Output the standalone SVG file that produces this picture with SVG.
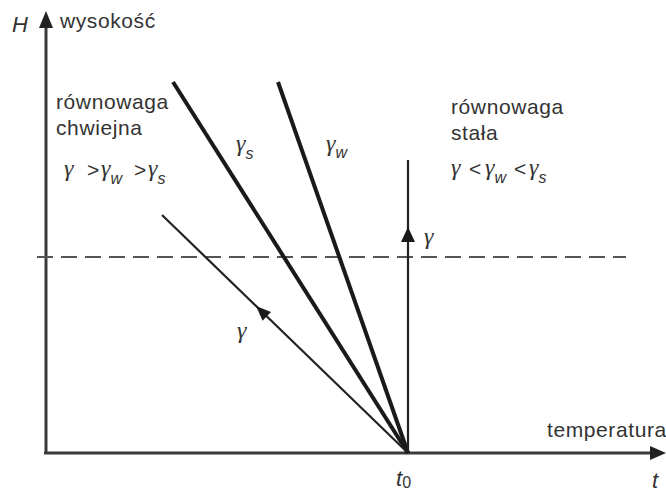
<svg xmlns="http://www.w3.org/2000/svg" width="666" height="493" viewBox="0 0 666 493">
<style>
.t{font-family:"Liberation Sans",Arial,sans-serif;font-size:21px;letter-spacing:0.6px;fill:#333}
.g{font-family:"Liberation Serif","Times New Roman",serif;font-style:italic;font-size:24px;fill:#333}
.it{font-family:"Liberation Sans",Arial,sans-serif;font-style:italic;font-size:22px;fill:#333}
.sub{font-family:"Liberation Sans",Arial,sans-serif;font-style:italic;font-size:16px}
.ax{stroke:#3a3a3a;stroke-width:3;fill:none}
.thick{stroke:#1a1a1a;stroke-width:4;fill:none}
.thin{stroke:#222;stroke-width:2.2;fill:none}
</style>
<rect width="666" height="493" fill="#fff"/>
<g id="axes">
<line class="ax" x1="46" y1="454" x2="46" y2="26"/>
<polygon points="46,11 39,28 53,28" fill="#222"/>
<line class="ax" x1="44" y1="453" x2="652" y2="453"/>
<polygon points="666,453 650,446 650,460" fill="#222"/>
</g>
<g id="connectors">
<line x1="37" y1="257" x2="626" y2="257" stroke="#555" stroke-width="2.2" stroke-dasharray="16,8"/>
<line class="thick" x1="173" y1="82" x2="408" y2="453"/>
<line class="thick" x1="278" y1="82" x2="408" y2="453"/>
<line class="thin" x1="162" y1="215" x2="408" y2="453"/>
<line class="thin" x1="408" y1="160" x2="408" y2="453"/>
<polygon points="408,227 401,242 415,242" fill="#1a1a1a"/>
<polygon points="256,306 271,312 262.6,320.7" fill="#1a1a1a"/>
</g>
<g id="labels">
<text class="it" x="12" y="32">H</text>
<text class="t" x="60" y="28">wysokość</text>
<text class="t" x="56" y="109">równowaga</text>
<text class="t" x="56" y="135">chwiejna</text>
<text class="g" x="64" y="176">γ</text>
<text class="t" x="87" y="177">&gt;</text>
<text class="g" x="101" y="176">γ<tspan class="sub" dy="8">w</tspan></text>
<text class="t" x="134" y="177">&gt;</text>
<text class="g" x="148" y="176">γ<tspan class="sub" dy="8">s</tspan></text>
<text class="t" x="451" y="114">równowaga</text>
<text class="t" x="451" y="140">stała</text>
<text class="g" x="451" y="175">γ</text>
<text class="t" x="469" y="176">&lt;</text>
<text class="g" x="485" y="175">γ<tspan class="sub" dy="8">w</tspan></text>
<text class="t" x="514" y="176">&lt;</text>
<text class="g" x="529" y="175">γ<tspan class="sub" dy="8">s</tspan></text>
<text class="g" x="236" y="151">γ<tspan class="sub" dy="8">s</tspan></text>
<text class="g" x="326" y="151">γ<tspan class="sub" dy="7">w</tspan></text>
<text class="g" x="424" y="244">γ</text>
<text class="g" x="237" y="338">γ</text>
<text class="t" x="547" y="437">temperatura</text>
<text class="it" x="396" y="486">t<tspan style="font-style:normal;font-size:16px" dy="2">0</tspan></text>
<text class="it" x="652" y="488">t</text>
</g>
</svg>
